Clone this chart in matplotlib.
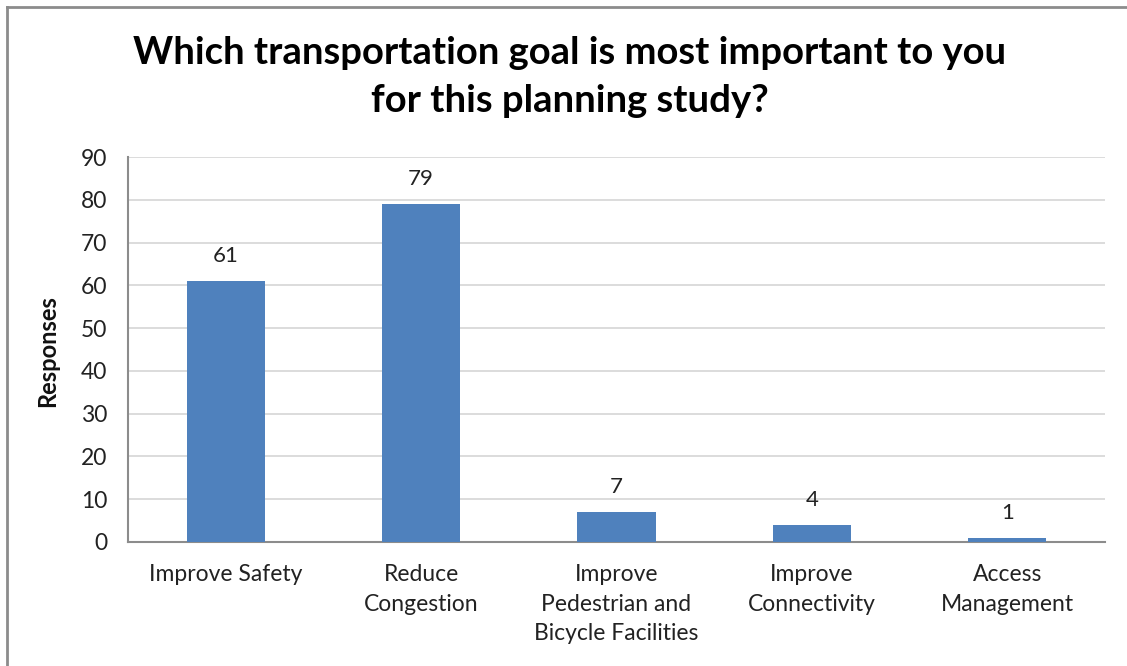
import matplotlib
matplotlib.use("Agg")
import matplotlib.pyplot as plt
from matplotlib.lines import Line2D

categories = ["Improve Safety", "Reduce\nCongestion", "Improve\nPedestrian and\nBicycle Facilities",
              "Improve\nConnectivity", "Access\nManagement"]
responses = [61, 79, 7, 4, 1]
yticks = [0, 10, 20, 30, 40, 50, 60, 70, 80, 90]

plt.rcParams["font.family"] = ["Lato", "DejaVu Sans"]

W, H = 1127, 666
fig = plt.figure(figsize=(W / 100, H / 100), dpi=100)
ax = fig.add_axes([128 / W, 1 - 542 / H, (1105 - 128) / W, (542 - 157) / H])

x = range(len(categories))
ax.bar(x, responses, width=0.4, color="#4F81BD", zorder=3)
for xi, v in zip(x, responses):
    ax.annotate(str(v), (xi, v), xytext=(0, 10.5), textcoords="offset points",
                ha="center", va="bottom", fontsize=16, color="#222222")

ax.set_xlim(-0.5, len(categories) - 0.5)
ax.set_ylim(0, 90)
ax.set_yticks(yticks)
ax.set_xticks(list(x))
ax.set_xticklabels(categories, fontsize=16.5, color="#222222", linespacing=1.5, va="top")
ax.tick_params(axis="y", labelsize=16.5, labelcolor="#222222", length=0, pad=15)
ax.tick_params(axis="x", length=0, pad=16)
ax.grid(axis="y", color="#D9D9D9", linewidth=1.3, zorder=0)
ax.set_axisbelow(True)
for s in ["top", "right"]:
    ax.spines[s].set_visible(False)
for s in ["left", "bottom"]:
    ax.spines[s].set_color("#8C8C8C")
    ax.spines[s].set_linewidth(1.5)

fig.text(48 / W, 1 - 351 / H, "Responses", rotation=90, ha="center", va="center",
         fontsize=17, fontweight="bold", color="#111111")
fig.text(570 / W, 1 - 77 / H, "Which transportation goal is most important to you\nfor this planning study?",
         ha="center", va="center", fontsize=27.5, fontweight="bold", color="black", linespacing=1.5)

# outer chart frame: left and top edges
fig.add_artist(Line2D([7 / W, 7 / W], [0, 1 - 7 / H], color="#8C8C8C", linewidth=2, transform=fig.transFigure))
fig.add_artist(Line2D([7 / W, 1], [1 - 7 / H, 1 - 7 / H], color="#8C8C8C", linewidth=2, transform=fig.transFigure))

fig.savefig("out.png", dpi=100)
